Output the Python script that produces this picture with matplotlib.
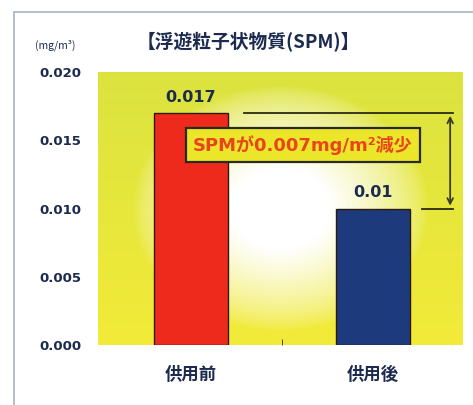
import numpy as np
import matplotlib.pyplot as plt
from matplotlib.patches import Rectangle

plt.rcParams['font.family'] = ['Noto Sans CJK JP', 'DejaVu Sans']

categories = ['供用前', '供用後']
values = [0.017, 0.010]
value_labels = ['0.017', '0.01']
yticks = [0.000, 0.005, 0.010, 0.015, 0.020]
title = '【浮遊粒子状物質(SPM)】'
unit = '(mg/m³)'
note = 'SPMが0.007mg/m²減少'

navy = '#1c2a50'
latin = ['DejaVu Sans', 'Noto Sans CJK JP']

fig = plt.figure(figsize=(4.73, 4.05), dpi=100)
fig.patch.set_facecolor('white')

# light frame round the whole picture
fig.add_artist(Rectangle((14/473, -0.1), 1.2, 1 - 12/405 + 0.1,
                         transform=fig.transFigure, fill=False,
                         edgecolor='#a8b4c4', linewidth=1.2))

ax = fig.add_axes([98/473, 1 - 345/405, 364/473, 273/405])

# yellow background with a pale spot between the bars
ny, nx = 200, 300
yy, xx = np.mgrid[0:1:ny*1j, 0:1:nx*1j]
d = np.sqrt(((xx - 0.5) / 0.27)**2 + ((yy - 0.50) / 0.30)**2)
w = np.clip(1.5 - d, 0, 1)**0.7
top = np.array([0.86, 0.89, 0.25])
bot = np.array([0.95, 0.92, 0.22])
base = top[None, None, :] * yy[..., None] + bot[None, None, :] * (1 - yy[..., None])
img = base * (1 - w[..., None]) + np.ones(3) * w[..., None]
ax.imshow(img, extent=[0, 1, 0, 1], origin='lower', transform=ax.transAxes,
          aspect='auto', zorder=0)

x = np.arange(len(categories))
ax.bar(x, values, width=0.41, color=['#ee2a1c', '#1d3a7c'],
       edgecolor='#2a1a10', linewidth=1.0, zorder=2)

for xi, v, lab in zip(x, values, value_labels):
    ax.annotate(lab, (xi, v), xytext=(0, 6), textcoords='offset points',
                ha='center', va='bottom', fontsize=11.5, fontweight='bold',
                color=navy, family=latin)

# difference marker
ax.plot([0.29, 1.44], [values[0], values[0]], color='#2a2a1a', lw=1.3, zorder=3)
ax.plot([1.27, 1.44], [values[1], values[1]], color='#2a2a1a', lw=1.3, zorder=3)
ax.annotate('', xy=(1.425, values[1]), xytext=(1.425, values[0]),
            arrowprops=dict(arrowstyle='<->', color='#3a3a2a', lw=1.3),
            zorder=3)

ax.text(0.615, 0.01465, note, ha='center', va='center', fontsize=13,
        fontweight='bold', color='#e8461a', zorder=4, family=latin,
        bbox=dict(boxstyle='square,pad=0.4', facecolor='#ece62a',
                  edgecolor='#2a2a1a', linewidth=1.6))

ax.set_xlim(-0.51, 1.49)
ax.set_ylim(0, 0.020)
ax.set_yticks(yticks)
ax.set_yticklabels([f'{t:.3f}' for t in yticks], fontsize=9.5,
                   fontweight='bold', color=navy, family=latin)
ax.set_xticks(x)
ax.set_xticklabels(categories, fontsize=12.5, fontweight='bold', color=navy)
ax.set_xticks([0.5], minor=True)
ax.tick_params(axis='x', which='major', length=0, pad=15)
ax.tick_params(axis='x', which='minor', direction='in', length=4, color='#333333')
ax.tick_params(axis='y', length=0, pad=12)
for s in ax.spines.values():
    s.set_visible(False)

fig.text(55/473, 1 - 45/405, unit, ha='center', va='center', fontsize=7.5,
         color=navy)
fig.text(248/473, 1 - 42/405, title, ha='center', va='center', fontsize=13.5,
         fontweight='bold', color=navy)

fig.savefig('out.png', dpi=100)
